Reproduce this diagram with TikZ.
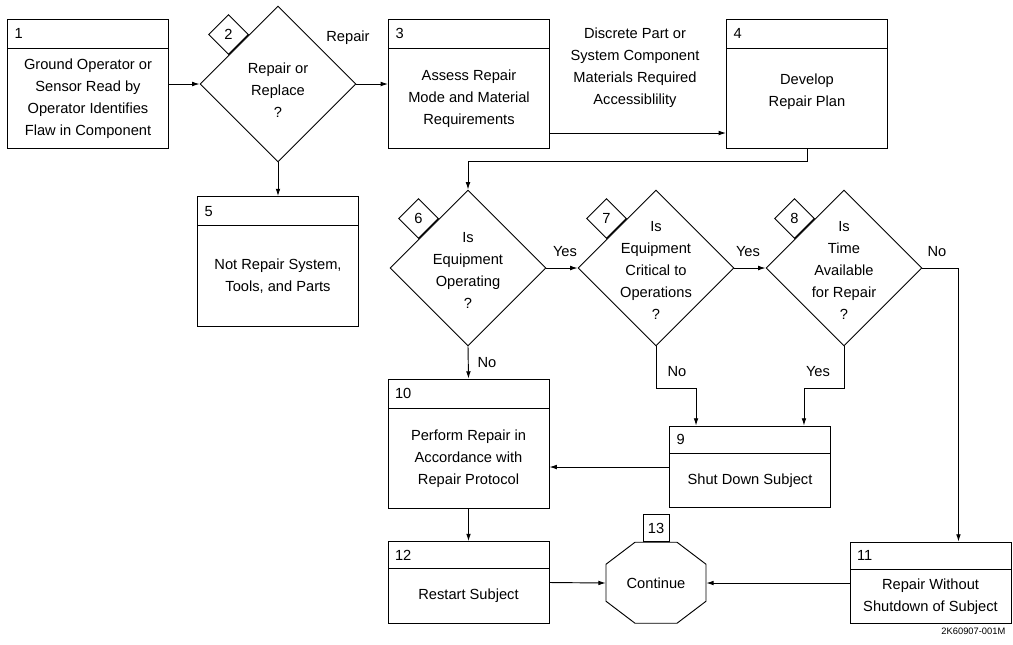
\documentclass[tikz,border=0pt]{standalone}
\usepackage{fontspec}
\setmainfont{Liberation Sans}
\usetikzlibrary{shapes.geometric,shapes.multipart,arrows.meta,positioning}
\newcommand{\tallpart}[2]{\parbox[c][21pt][c]{110.25pt}{\raggedright #1}\nodepart{two}\parbox[c][75pt][c]{110.25pt}{\centering #2}}
\newcommand{\shortpart}[2]{\parbox[c][19.5pt][c]{110.25pt}{\raggedright #1}\nodepart{two}\parbox[c][40.5pt][c]{110.25pt}{\centering #2}}

\begin{document}
\begin{tikzpicture}[
  x=0.75pt, y=-0.75pt,
  every node/.style={font=\fontsize{11}{16.5}\selectfont},
  flowbox/.style={draw, line width=0.7pt, rectangle split, rectangle split parts=2,
    inner xsep=5.25pt, inner ysep=0pt},
  decide/.style={draw, line width=0.7pt, diamond, minimum width=117pt, minimum height=117pt, inner sep=0pt},
  tag/.style={draw, line width=0.7pt, diamond, minimum width=30pt, minimum height=30pt, inner sep=0pt},
  qtext/.style={align=center},
  flow/.style={line width=0.7pt, -{Latex[length=5.5pt,width=3.5pt]}}
]
\useasboundingbox (0,0) rectangle (1013,644);

% top row
\node[flowbox] (s1) at (88,84) {\tallpart{1}{Ground Operator or\\Sensor Read by\\Operator Identifies\\Flaw in Component}};
\node[decide] (d2) at (278,84) {};
\node[qtext] (q2) at ([yshift=-5pt]d2.center) {Repair or\\Replace\\?};
\node[tag, anchor=south east] (t2) at (d2.north west) {2};
\node[flowbox] (s3) at (469,84) {\tallpart{3}{Assess Repair\\Mode and Material\\Requirements}};
\node[flowbox] (s4) at (807,84) {\tallpart{4}{Develop\\Repair Plan\\[10pt]}};
\node[flowbox] (s5) at (278,261.5) {\tallpart{5}{Not Repair System,\\Tools, and Parts}};

% decisions
\node[decide] (d6) at (468,268) {};
\node[qtext] (q6) at ([yshift=-2pt]d6.center) {Is\\Equipment\\Operating\\?};
\node[tag, anchor=south east] (t6) at (d6.north west) {6};
\node[decide] (d7) at (656,268) {};
\node[qtext] (q7) at ([yshift=-1.5pt]d7.center) {Is\\Equipment\\Critical to\\Operations\\?};
\node[tag, anchor=south east] (t7) at (d7.north west) {7};
\node[decide] (d8) at (844,268) {};
\node[qtext] (q8) at ([yshift=-1.5pt]d8.center) {Is\\Time\\Available\\for Repair\\?};
\node[tag, anchor=south east] (t8) at (d8.north west) {8};

% lower boxes
\node[flowbox] (s10) at (468.5,444) {\tallpart{10}{Perform Repair in\\Accordance with\\Repair Protocol}};
\node[flowbox] (s9) at (750,467) {\shortpart{9}{Shut Down Subject}};
\node[flowbox] (s12) at (468.5,582.5) {\shortpart{12}{Restart Subject}};
\node[flowbox] (s11) at (930.5,583) {\shortpart{11}{Repair Without\\Shutdown of Subject}};
\node[minimum width=75pt, minimum height=60.75pt, inner sep=0pt] (n13) at (656,583) {Continue};
\draw[line width=0.7pt] ([xshift=-15.75pt]n13.north) -- ++(42,0) -- ++(29,22) -- ++(0,37)
  -- ++(-29,22) -- ++(-42,0) -- ++(-29,-22) -- ++(0,-37) -- cycle;
\node[draw, line width=0.7pt, minimum width=19.5pt, minimum height=20.25pt, inner sep=0pt, anchor=south] (t13) at (n13.north) {13};

% labels
\node (lrep) at (348,38) {Repair};
\node[qtext] (lpart) at (635,68) {Discrete Part or\\System Component\\Materials Required\\Accessiblility};
\node (y67) at (565,252) {Yes};
\node (y78) at (748,252) {Yes};
\node (n8) at (937,252) {No};
\node (n6) at (487,363) {No};
\node (n7) at (677,372) {No};
\node (y8) at (818,372) {Yes};
\node[font=\fontsize{7}{8}\selectfont, anchor=east] (code) at (1010,631) {2K60907-001M};

% connectors
\draw[flow] (s1.east) -- (d2.west);
\draw[flow] (d2.east) -- (s3.west);
\draw[flow] (d2.south) -- (s5.north);
\draw[flow] ([yshift=-36.75pt]s3.east) -- ([yshift=-36.75pt]s4.west);
\draw[flow] (s4.south) -- ++(0,12) -| (d6.north);
\draw[flow] (d6.east) -- (d7.west);
\draw[flow] (d7.east) -- (d8.west);
\draw[flow] (d6.south) -- (s10.north);
\draw[flow] (d7.south) -- ++(0,42) -| ([xshift=20.25pt]s9.north west);
\draw[flow] (d8.south) -- ++(0,42) -| ([xshift=-20.25pt]s9.north east);
\draw[flow] (d8.east) -| ([xshift=-39.75pt]s11.north east);
\draw[flow] (s9.west) -- (s10.east |- s9.west);
\draw[flow] (s10.south) -- (s12.north);
\draw[flow] (s12.east) -- (n13.west);
\draw[flow] (s11.west) -- (n13.east);
\end{tikzpicture}
\end{document}
